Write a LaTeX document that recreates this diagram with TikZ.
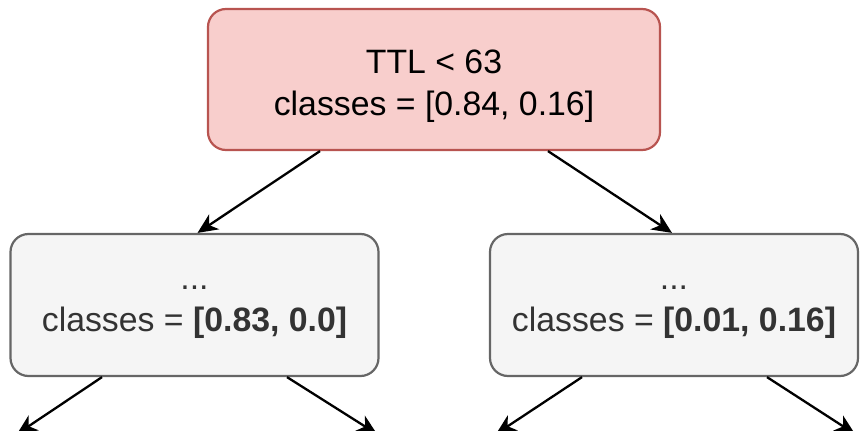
\documentclass[tikz,border=0pt]{standalone}
\usepackage{fontspec}
\setmainfont{Liberation Sans}
\usetikzlibrary{arrows.meta}
\definecolor{rootfill}{HTML}{F8CECC}
\definecolor{rootline}{HTML}{B85450}
\definecolor{leaffill}{HTML}{F5F5F5}
\definecolor{leafline}{HTML}{666666}
\definecolor{leaftext}{HTML}{333333}
\tikzset{
  box/.style={draw, line width=2.2pt, rounded corners=18pt, inner sep=0pt},
  rootbox/.style={box, fill=rootfill, draw=rootline, minimum width=452pt, minimum height=141pt},
  leafbox/.style={box, fill=leaffill, draw=leafline, minimum width=368pt, minimum height=142pt},
  txt/.style={align=center, inner sep=0pt, font=\fontsize{33.8}{42}\selectfont},
  edge/.style={line width=2.3pt, -{Stealth[length=20pt, width=18pt, inset=6pt]}}
}
\begin{document}
\begin{tikzpicture}[x=1pt, y=-1pt]
  \useasboundingbox (0,0) rectangle (862,431);
  % boxes
  \node[rootbox] (root) at (434,79.5) {};
  \node[leafbox] (left) at (194.5,305) {};
  \node[leafbox] (right) at (674,305) {};
  % labels
  \node[txt] (roottxt) at ([yshift=-7pt]root.center) {TTL < 63\\classes = [0.84, 0.16]};
  \node[txt, text=leaftext] (lefttxt) at ([yshift=-7pt]left.center) {...\\classes = \textbf{[0.83, 0.0]}};
  \node[txt, text=leaftext] (righttxt) at ([yshift=-7pt]right.center) {...\\classes = \textbf{[0.01, 0.16]}};
  % free ends of the lower branches
  \coordinate (ll) at (17,434);
  \coordinate (lr) at (377,434);
  \coordinate (rl) at (496,434);
  \coordinate (rr) at (855,434);
  % connectors
  \draw[edge] ([xshift=-114pt]root.south) -- ([xshift=3pt]left.north);
  \draw[edge] ([xshift=114pt]root.south) -- ([xshift=-2pt]right.north);
  \draw[edge] ([xshift=-92.5pt]left.south) -- (ll);
  \draw[edge] ([xshift=92.5pt]left.south) -- (lr);
  \draw[edge] ([xshift=-92pt]right.south) -- (rl);
  \draw[edge] ([xshift=93pt]right.south) -- (rr);
\end{tikzpicture}
\end{document}
